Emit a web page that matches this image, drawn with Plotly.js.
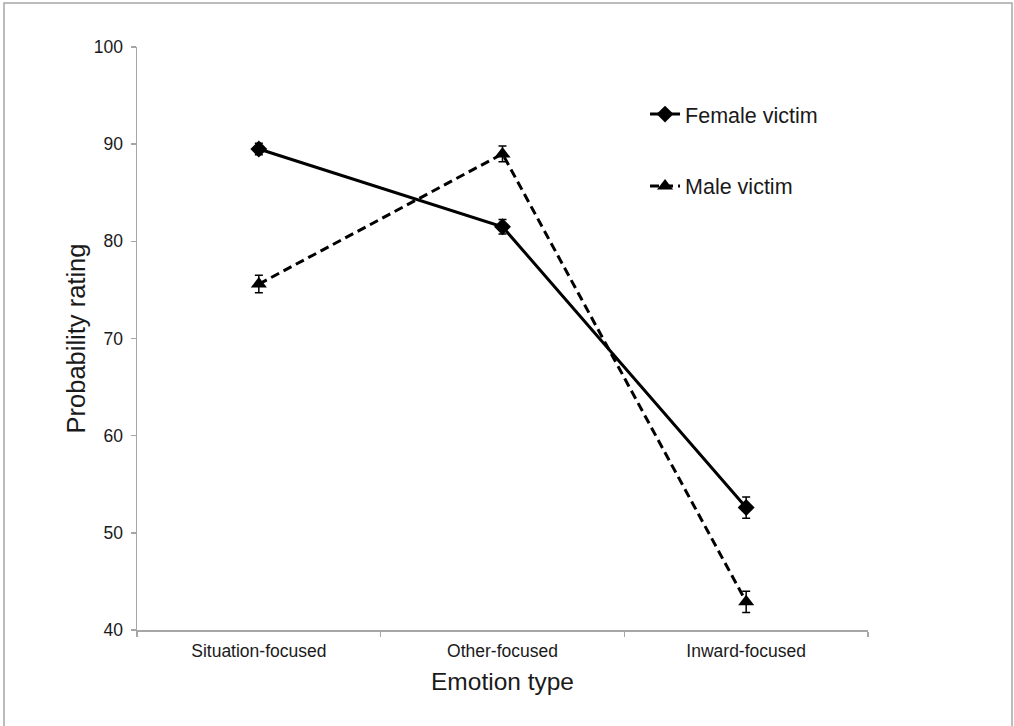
<!DOCTYPE html>
<html>
<head>
<meta charset="utf-8">
<script src="https://cdn.plot.ly/plotly-3.0.1.min.js"></script>
<style>html,body{margin:0;padding:0;background:#fff;}#chart{width:1014px;height:726px;}</style>
</head>
<body>
<div id="chart"></div>
<script>
const categories = ["Situation-focused", "Other-focused", "Inward-focused"];
const femaleValues = [89.5, 81.5, 52.6];
const femaleErrors = [0.6, 0.75, 1.1];
const maleValues = [75.6, 89.0, 42.9];
const maleErrors = [0.9, 0.8, 1.1];
const seriesNames = ["Female victim", "Male victim"];
const yTicks = [40, 50, 60, 70, 80, 90, 100];

const traces = [
  {
    x: categories, y: femaleValues, name: seriesNames[0], type: "scatter", mode: "lines+markers",
    legendgroup: "f",
    line: {color: "#000", width: 3},
    marker: {symbol: "diamond", size: 13, color: "#000"},
    error_y: {type: "data", array: femaleErrors, visible: true, color: "#000", thickness: 1.5, width: 4}
  },
  {
    x: categories, y: maleValues, name: seriesNames[1], type: "scatter", mode: "lines+markers",
    legendgroup: "m",
    line: {color: "#000", width: 3, dash: "9px,5px"},
    marker: {symbol: "triangle-up", size: 14, color: "#000"},
    error_y: {type: "data", array: maleErrors, visible: true, color: "#000", thickness: 1.5, width: 4}
  }
];

const layout = {
  width: 1014, height: 726,
  margin: {l: 137, r: 146, t: 47, b: 96},
  paper_bgcolor: "#fff", plot_bgcolor: "#fff",
  font: {family: "Liberation Sans, Arial, sans-serif", color: "#1a1a1a"},
  showlegend: true,
  legend: {
    x: 0.695, y: 0.92, xanchor: "left", yanchor: "top",
    font: {size: 21.5, color: "#1a1a1a"},
    tracegroupgap: 41, bgcolor: "rgba(0,0,0,0)"
  },
  xaxis: {
    type: "category", range: [-0.5, 2.5],
    showline: true, linecolor: "#a6a6a6", linewidth: 1.5,
    ticks: "outside", tickson: "boundaries", ticklen: 5, tickcolor: "#a6a6a6", tickwidth: 1.5,
    ticklabelstandoff: 4,
    showgrid: false, zeroline: false,
    tickfont: {size: 17.5, color: "#1a1a1a"},
    title: {text: "Emotion type", font: {size: 24.5, color: "#1a1a1a"}, standoff: 13}
  },
  yaxis: {
    range: [40, 100], tickvals: yTicks,
    showline: true, linecolor: "#a6a6a6", linewidth: 1.5,
    ticks: "outside", ticklen: 5, tickcolor: "#a6a6a6", tickwidth: 1.5,
    ticklabelstandoff: 4,
    showgrid: false, zeroline: false,
    tickfont: {size: 17.5, color: "#1a1a1a"},
    title: {text: "Probability rating", font: {size: 25.5, color: "#1a1a1a"}, standoff: 1}
  },
  shapes: [{
    type: "rect", xref: "paper", yref: "paper",
    x0: (4 - 137) / 731, x1: (1012 - 137) / 731,
    y0: (630 - 730) / 583, y1: (630 - 3) / 583,
    line: {color: "#a6a6a6", width: 1.5}, fillcolor: "rgba(0,0,0,0)", layer: "below"
  }]
};

Plotly.newPlot("chart", traces, layout, {displayModeBar: false, staticPlot: true});
</script>
</body>
</html>
